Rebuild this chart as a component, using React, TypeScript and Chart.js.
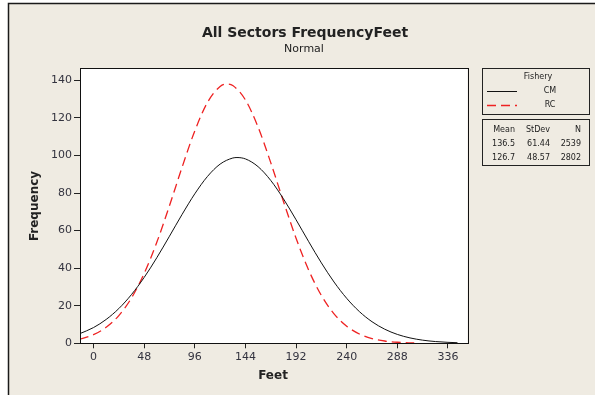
import React, { useEffect, useRef } from "react";
import { Chart, registerables } from "chart.js";

Chart.register(...registerables);

const chartTitle = "All Sectors FrequencyFeet";
const chartSubtitle = "Normal";
const xTitle = "Feet";
const yTitle = "Frequency";
const legendTitle = "Fishery";
const seriesNames = ["CM", "RC"];
const statHeaders = ["Mean", "StDev", "N"];
const cmStats = ["136.5", "61.44", "2539"];
const rcStats = ["126.7", "48.57", "2802"];

const xTicks = [0, 48, 96, 144, 192, 240, 288, 336];
const yTicks = [0, 20, 40, 60, 80, 100, 120, 140];

const cmFeet = [-13, 0, 12, 24, 36, 48, 60, 72, 84, 96, 108, 120, 132, 136, 144, 156, 168, 180, 192, 204, 216, 228, 240, 252, 264, 276, 288, 300, 312, 324, 336, 345];
const cmFreq = [5.13, 8.38, 12.7, 18.5, 25.96, 35.06, 45.57, 57.02, 68.66, 79.6, 88.83, 95.42, 98.66, 98.92, 98.19, 94.06, 86.73, 76.99, 65.78, 54.1, 42.82, 32.63, 23.94, 16.9, 11.49, 7.52, 4.73, 2.87, 1.67, 0.94, 0.51, 0.31];

const rcFeet = [-13, 0, 12, 24, 36, 48, 60, 72, 84, 96, 108, 120, 126, 132, 144, 156, 168, 180, 192, 204, 216, 228, 240, 252, 264, 276, 288, 300, 304];
const rcFreq = [2.21, 4.6, 8.5, 14.77, 24.15, 37.16, 53.79, 73.24, 93.82, 113.08, 128.23, 136.78, 138.08, 137.27, 129.6, 115.11, 96.19, 75.62, 55.94, 38.91, 25.48, 15.69, 9.09, 4.95, 2.54, 1.23, 0.56, 0.24, 0.18];

const W = 595;
const H = 395;
const BG = "#EFEBE2";
const TEXT = "#222";
const TICK_TEXT = "#33333f";
const RED = "#ee2222";

const decorPlugin = {
  id: "decor",
  beforeDraw(chart: any) {
    const ctx = chart.ctx;
    const a = chart.chartArea;
    ctx.save();
    ctx.fillStyle = "#ffffff";
    ctx.fillRect(0, 0, W, H);
    ctx.fillStyle = BG;
    ctx.fillRect(8, 3, W - 8, H - 3);
    ctx.strokeStyle = "#1a1a1a";
    ctx.lineWidth = 1.5;
    ctx.beginPath();
    ctx.moveTo(8.5, H);
    ctx.lineTo(8.5, 3.5);
    ctx.lineTo(W, 3.5);
    ctx.stroke();
    ctx.fillStyle = "#ffffff";
    ctx.fillRect(a.left, a.top, a.right - a.left, a.bottom - a.top);
    ctx.restore();
  },
  afterDraw(chart: any) {
    const ctx = chart.ctx;
    const a = chart.chartArea;
    ctx.save();
    // plot frame
    ctx.strokeStyle = "#111";
    ctx.lineWidth = 1;
    ctx.strokeRect(Math.round(a.left) + 0.5, Math.round(a.top) + 0.5, Math.round(a.right - a.left), Math.round(a.bottom - a.top));

    // titles
    ctx.fillStyle = TEXT;
    ctx.textAlign = "center";
    ctx.textBaseline = "middle";
    ctx.font = "bold 14px 'DejaVu Sans'";
    ctx.fillText(chartTitle, 305, 33);
    ctx.font = "11px 'DejaVu Sans'";
    ctx.fillText(chartSubtitle, 304, 49);

    ctx.font = "bold 12px 'DejaVu Sans'";
    ctx.fillText(xTitle, 273, 376);
    ctx.save();
    ctx.translate(35, 206);
    ctx.rotate(-Math.PI / 2);
    ctx.fillText(yTitle, 0, 0);
    ctx.restore();

    // legend box 1
    ctx.strokeStyle = "#222";
    ctx.lineWidth = 1;
    ctx.strokeRect(482.5, 68.5, 107, 46);
    ctx.strokeRect(482.5, 119.5, 107, 46);

    ctx.font = "8px 'DejaVu Sans'";
    ctx.fillStyle = TEXT;
    ctx.textAlign = "center";
    ctx.fillText(legendTitle, 538, 77);
    ctx.fillText(seriesNames[0], 550, 91);
    ctx.fillText(seriesNames[1], 550, 105);

    ctx.strokeStyle = "#111";
    ctx.lineWidth = 1;
    ctx.beginPath();
    ctx.moveTo(487, 91.5);
    ctx.lineTo(517, 91.5);
    ctx.stroke();
    ctx.strokeStyle = RED;
    ctx.lineWidth = 1.3;
    ctx.setLineDash([9, 5]);
    ctx.beginPath();
    ctx.moveTo(487, 105.5);
    ctx.lineTo(517, 105.5);
    ctx.stroke();
    ctx.setLineDash([]);

    // stats box
    ctx.fillStyle = TEXT;
    ctx.font = "8px 'DejaVu Sans'";
    ctx.textAlign = "right";
    const colRight = [515, 550, 581];
    const rows = [statHeaders, cmStats, rcStats];
    const rowY = [130, 144, 158];
    rows.forEach((r, ri) => {
      r.forEach((t, ci) => {
        ctx.fillText(t, colRight[ci], rowY[ri]);
      });
    });
    ctx.restore();
  },
};

export default function App() {
  const ref = useRef<HTMLCanvasElement | null>(null);

  useEffect(() => {
    if (!ref.current) return;
    const chart = new Chart(ref.current, {
      type: "line",
      data: {
        datasets: [
          {
            label: seriesNames[0],
            data: cmFeet.map((x, i) => ({ x, y: cmFreq[i] })),
            borderColor: "#111111",
            borderWidth: 1,
            pointRadius: 0,
            cubicInterpolationMode: "monotone",
            fill: false,
          },
          {
            label: seriesNames[1],
            data: rcFeet.map((x, i) => ({ x, y: rcFreq[i] })),
            borderColor: RED,
            borderWidth: 1.3,
            borderDash: [9, 5],
            pointRadius: 0,
            cubicInterpolationMode: "monotone",
            fill: false,
          },
        ],
      },
      options: {
        animation: false,
        responsive: false,
        devicePixelRatio: 1,
        layout: { padding: { left: 0, top: 68, right: 127.5, bottom: 0 } },
        plugins: {
          legend: { display: false },
          title: { display: false },
          tooltip: { enabled: false },
        },
        scales: {
          x: {
            type: "linear",
            min: -12.8,
            max: 354.5,
            afterFit: (s: any) => {
              s.height = 51.7;
            },
            afterBuildTicks: (s: any) => {
              s.ticks = xTicks.map((v) => ({ value: v }));
            },
            border: { display: false },
            grid: { drawOnChartArea: false, drawTicks: true, tickLength: 5, color: "#222" },
            ticks: {
              color: TICK_TEXT,
              font: { family: "'DejaVu Sans'", size: 11 },
              padding: 2,
              maxRotation: 0,
              autoSkip: false,
            },
          },
          y: {
            type: "linear",
            min: 0,
            max: 146.6,
            afterFit: (s: any) => {
              s.width = 80;
            },
            afterBuildTicks: (s: any) => {
              s.ticks = yTicks.map((v) => ({ value: v }));
            },
            border: { display: false },
            grid: { drawOnChartArea: false, drawTicks: true, tickLength: 6, color: "#222" },
            ticks: {
              color: TICK_TEXT,
              font: { family: "'DejaVu Sans'", size: 11 },
              padding: 2,
              autoSkip: false,
            },
          },
        },
      },
      plugins: [decorPlugin],
    } as any);
    return () => chart.destroy();
  }, []);

  return (
    <div style={{ position: "absolute", left: 0, top: 0, width: W, height: H }}>
      <canvas ref={ref} width={W} height={H} style={{ width: W, height: H, display: "block" }} />
    </div>
  );
}
